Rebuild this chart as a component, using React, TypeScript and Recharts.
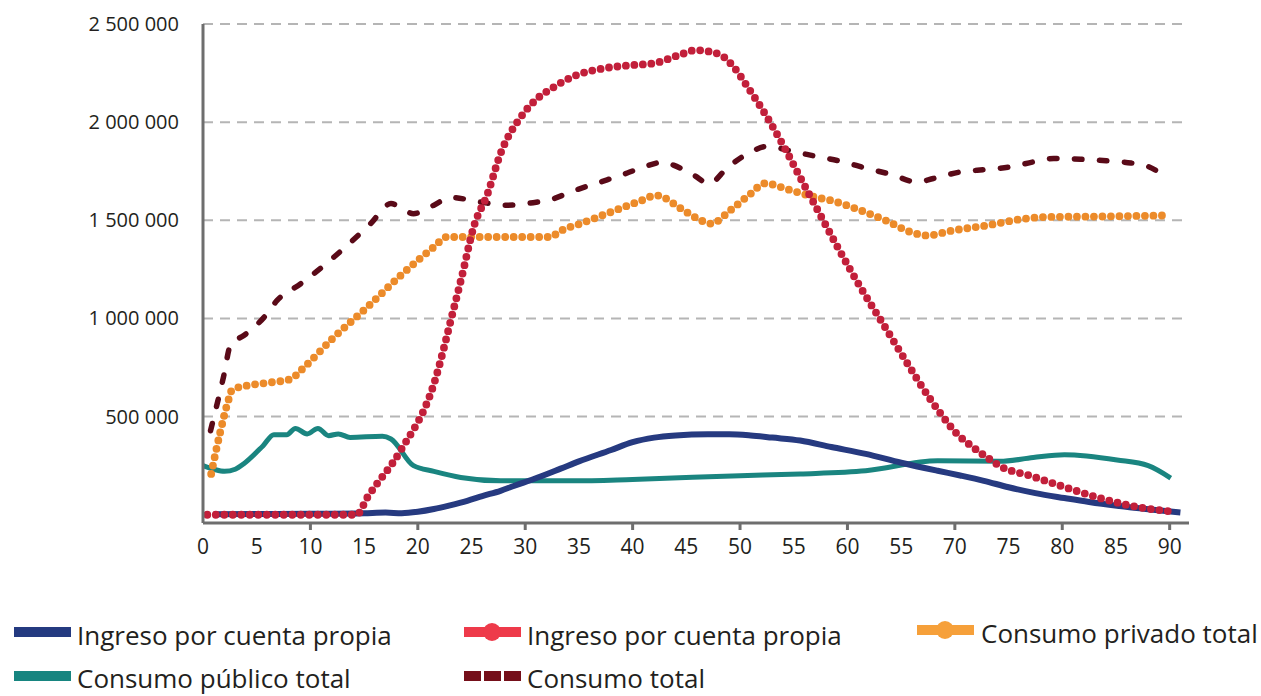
import React from "react";
import { LineChart, Line, XAxis, YAxis, CartesianGrid } from "recharts";

// ---------- data ----------
const blueAges = [1, 5, 10, 15, 17, 18.5, 20, 21.5, 23, 24.6, 26, 27.7, 29, 30.8, 33.3, 35, 38, 40, 42, 44, 47, 49, 51, 53, 55.6, 58.5, 61.7, 65, 68.4, 70.5, 72.7, 75, 77.5, 80.2, 82.5, 85.1, 88, 91];
const blueValues = [3000, 4000, 5000, 8000, 11000, 8000, 15000, 29000, 48000, 71000, 95000, 122000, 148000, 182000, 235000, 272000, 330000, 370000, 393000, 404000, 410000, 410000, 404000, 393000, 378000, 345000, 310000, 265000, 224000, 200000, 173000, 140000, 110000, 85000, 65000, 46000, 28000, 12000];

const redAges = [0.4, 14.3, 15.3, 18.4, 21.5, 23.3, 24.1, 25.2, 26.5, 27.7, 29.6, 30.8, 32.7, 34.8, 37.3, 40.1, 42, 44.5, 45.9, 46.6, 48.2, 49.4, 50.7, 52.5, 54.1, 55.9, 57.2, 59, 61.2, 63.5, 65.6, 67.7, 68.7, 70.2, 71.5, 72.9, 74.3, 77, 80.1, 83.3, 86.4, 90.4];
const redValues = [0, 0, 88000, 327000, 667000, 1040000, 1214000, 1466000, 1636000, 1840000, 2027000, 2104000, 2180000, 2240000, 2274000, 2291000, 2300000, 2345000, 2367000, 2364000, 2342000, 2282000, 2180000, 2027000, 1874000, 1687000, 1555000, 1372000, 1160000, 956000, 769000, 590000, 514000, 412000, 352000, 296000, 245000, 199000, 143000, 88000, 46000, 15000];

const orangeAges = [0.76, 1.6, 2.4, 2.7, 4.1, 6, 8.2, 9.1, 12.2, 15.3, 18.4, 21.5, 22.7, 32.4, 33.1, 35.4, 38.6, 40.7, 42.2, 44.5, 46, 47.3, 49.1, 51, 52.3, 54.5, 56.9, 58.4, 61.2, 63.7, 65.9, 67.4, 69.9, 73, 76.1, 78.6, 83, 89.8];
const orangeValues = [208000, 420000, 590000, 636000, 658000, 672000, 692000, 735000, 905000, 1058000, 1219000, 1364000, 1415000, 1415000, 1440000, 1488000, 1555000, 1598000, 1627000, 1560000, 1510000, 1483000, 1551000, 1636000, 1688000, 1657000, 1619000, 1602000, 1551000, 1496000, 1440000, 1423000, 1449000, 1474000, 1505000, 1517000, 1519000, 1525000];

const tealAges = [0, 1, 2, 3, 3.8, 5.6, 6.6, 7.8, 8.6, 9.7, 10.7, 11.7, 12.6, 13.7, 16.7, 17.5, 19.6, 21.5, 24, 27.7, 34.5, 40, 50, 55.6, 61.7, 68.4, 74.2, 77.3, 80.2, 85.1, 88, 90.1];
const tealValues = [250000, 232000, 221000, 232000, 260000, 352000, 408000, 408000, 440000, 412000, 440000, 403000, 412000, 394000, 400000, 386000, 250000, 221000, 190000, 173000, 173000, 180000, 199000, 208000, 224000, 275000, 272000, 292000, 306000, 279000, 250000, 187000];

const darkAges = [0.7, 1.9, 2.6, 3.8, 5.7, 6.9, 9.1, 12.2, 15.6, 17.5, 19.6, 21.5, 23, 25.8, 28.3, 30.5, 32.4, 34.5, 37, 39.5, 41.3, 42.9, 43.8, 45.7, 47.1, 48.9, 51, 52.5, 55, 57.3, 59.6, 61.8, 64, 66.5, 68, 70.5, 73, 75.2, 77.6, 79.2, 81.7, 84.1, 86.4, 87.9, 88.8];
const darkValues = [428000, 700000, 871000, 913000, 1007000, 1092000, 1177000, 1313000, 1483000, 1585000, 1534000, 1577000, 1617000, 1593000, 1577000, 1588000, 1606000, 1650000, 1695000, 1741000, 1777000, 1797000, 1781000, 1730000, 1687000, 1772000, 1848000, 1876000, 1850000, 1823000, 1798000, 1764000, 1735000, 1695000, 1713000, 1746000, 1759000, 1772000, 1801000, 1815000, 1811000, 1803000, 1792000, 1776000, 1752000];

const xTicks = [0, 5, 10, 15, 20, 25, 30, 35, 40, 45, 50, 55, 60, 65, 70, 75, 80, 85, 90];
const xTickLabels = ["0", "5", "10", "15", "20", "25", "30", "35", "40", "45", "50", "55", "60", "55", "70", "75", "80", "85", "90"];
const yTicks = [500000, 1000000, 1500000, 2000000, 2500000];

const legendLabels = [
  "Ingreso por cuenta propia",
  "Ingreso por cuenta propia",
  "Consumo privado total",
  "Consumo público total",
  "Consumo total",
];

// ---------- helpers ----------
const zip = (ages: number[], values: number[]) => ages.map((a, i) => ({ age: a, v: values[i] }));

const blueData = zip(blueAges, blueValues);
const redData = zip(redAges, redValues);
const orangeData = zip(orangeAges, orangeValues);
const tealData = zip(tealAges, tealValues);
const darkData = zip(darkAges, darkValues);

const FONT = "'Open Sans', 'Noto Sans', sans-serif";
const AXIS = "#6e6e6e";
const TEXT = "#231f20";

const fmt = (n: number) => String(n).replace(/\B(?=(\d{3})+(?!\d))/g, " ");

const XTick = (props: any) => {
  const { x, y, payload } = props;
  const idx = xTicks.indexOf(payload.value);
  const showMark = payload.value % 10 === 0 && payload.value !== 0;
  return (
    <g>
      {showMark && <line x1={x} x2={x} y1={y} y2={y + 7} stroke={AXIS} strokeWidth={3} />}
      <text x={x} y={y + 31} textAnchor="middle" fontFamily={FONT} fontSize={21} fill={TEXT}>
        {xTickLabels[idx]}
      </text>
    </g>
  );
};

const YTick = (props: any) => {
  const { x, y, payload } = props;
  return (
    <text x={x - 24} y={y + 7} textAnchor="end" fontFamily={FONT} fontSize={20} fill={TEXT}>
      {fmt(payload.value)}
    </text>
  );
};

const COL = {
  blue: "#263a80",
  red: "#c21f3a",
  orange: "#ec8b2a",
  teal: "#1a8580",
  dark: "#5a0a18",
};

const Legend = () => (
  <svg width={1261} height={696} style={{ position: "absolute", left: 0, top: 0, pointerEvents: "none" }}>
    <g fontFamily={FONT} fontSize={26} fill={TEXT}>
      <rect x={14} y={627} width={57} height={10} fill="#243a80" />
      <text x={77} y={645}>{legendLabels[0]}</text>

      <rect x={464} y={627} width={57} height={10} fill="#ee3a4a" />
      <circle cx={492} cy={632} r={9} fill="#ee3a4a" />
      <text x={527} y={645}>{legendLabels[1]}</text>

      <rect x={917} y={625} width={57} height={10} fill="#f6a03a" />
      <circle cx={945} cy={630} r={9} fill="#f6a03a" />
      <text x={981} y={643}>{legendLabels[2]}</text>

      <rect x={14} y={671} width={57} height={10} fill="#178580" />
      <text x={77} y={688}>{legendLabels[3]}</text>

      <rect x={464} y={671} width={17} height={10} fill="#750f1a" />
      <rect x={484} y={671} width={17} height={10} fill="#750f1a" />
      <rect x={504} y={671} width={17} height={10} fill="#750f1a" />
      <text x={527} y={688}>{legendLabels[4]}</text>
    </g>
  </svg>
);

export default function App() {
  return (
    <div style={{ position: "absolute", left: 0, top: 0, width: 1261, height: 696, background: "#fff" }}>
      <LineChart width={1261} height={600} margin={{ top: 24, right: 72, bottom: 40, left: 0 }}>
        <CartesianGrid horizontal vertical={false} stroke="#b5b5b5" strokeWidth={2} strokeDasharray="10 7" />
        <XAxis
          dataKey="age"
          type="number"
          domain={[0, 91.8]}
          ticks={xTicks}
          interval={0}
          height={37}
          tickSize={0}
          tickMargin={0}
          tickLine={false}
          axisLine={{ stroke: AXIS, strokeWidth: 3 }}
          tick={<XTick />}
          allowDuplicatedCategory={false}
        />
        <YAxis
          type="number"
          domain={[-42000, 2500000]}
          ticks={yTicks}
          width={203}
          tickSize={0}
          tickMargin={0}
          tickLine={false}
          axisLine={{ stroke: AXIS, strokeWidth: 3 }}
          tick={<YTick />}
          interval={0}
        />
        <Line data={tealData} dataKey="v" type="monotone" stroke={COL.teal} strokeWidth={5} dot={false} activeDot={false} isAnimationActive={false} />
        <Line data={blueData} dataKey="v" type="monotone" stroke={COL.blue} strokeWidth={6} dot={false} activeDot={false} isAnimationActive={false} />
        <Line data={darkData} dataKey="v" type="monotone" stroke={COL.dark} strokeWidth={5.5} strokeDasharray="7.5 17.5" strokeLinecap="round" dot={false} activeDot={false} isAnimationActive={false} />
        <Line data={orangeData} dataKey="v" type="monotone" stroke={COL.orange} strokeWidth={7.8} strokeDasharray="0 8.5" strokeLinecap="round" dot={false} activeDot={false} isAnimationActive={false} />
        <Line data={redData} dataKey="v" type="monotone" stroke={COL.red} strokeWidth={7.8} strokeDasharray="0 8.5" strokeLinecap="round" dot={false} activeDot={false} isAnimationActive={false} />
      </LineChart>
      <Legend />
    </div>
  );
}
